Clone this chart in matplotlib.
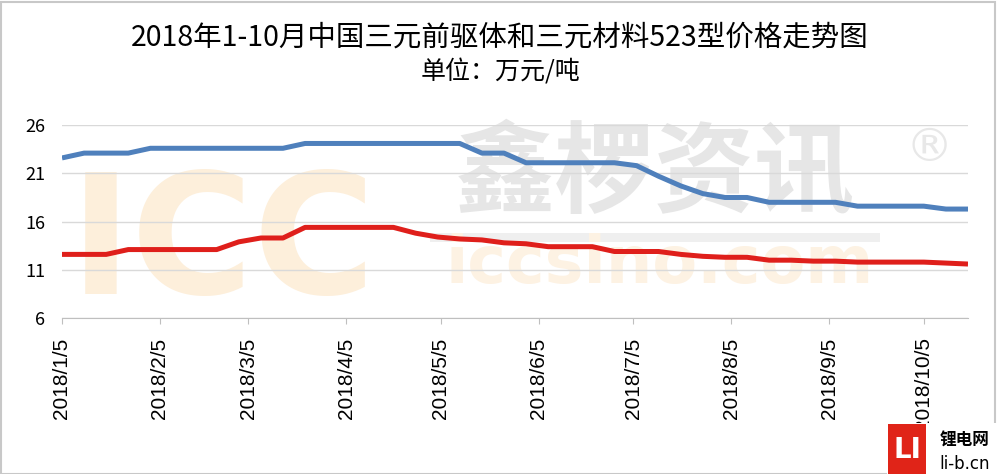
import pandas as pd
import matplotlib.pyplot as plt
from matplotlib.patches import Rectangle

plt.rcParams['font.family'] = ['Noto Sans CJK SC', 'DejaVu Sans']

# weekly price points, 2018/1/5 .. 2018/10/19 (unit: 10k yuan / ton)
dates = pd.date_range("2018-01-05", periods=42, freq="7D")

precursor = [22.6, 23.1, 23.1, 23.1, 23.6, 23.6, 23.6, 23.6, 23.6, 23.6,
             23.6, 24.1, 24.1, 24.1, 24.1, 24.1, 24.1, 24.1, 24.1, 23.1,
             23.1, 22.1, 22.1, 22.1, 22.1, 22.1, 21.8, 20.7, 19.7, 18.9,
             18.5, 18.5, 18.0, 18.0, 18.0, 18.0, 17.6, 17.6, 17.6, 17.6,
             17.3, 17.3]

material_523 = [12.6, 12.6, 12.6, 13.1, 13.1, 13.1, 13.1, 13.1, 13.9, 14.3,
                14.3, 15.4, 15.4, 15.4, 15.4, 15.4, 14.8, 14.4, 14.2, 14.1,
                13.8, 13.7, 13.4, 13.4, 13.4, 12.9, 12.9, 12.9, 12.6, 12.4,
                12.3, 12.3, 12.0, 12.0, 11.9, 11.9, 11.8, 11.8, 11.8, 11.8,
                11.7, 11.6]

tick_dates = pd.to_datetime(["2018-01-05", "2018-02-05", "2018-03-05", "2018-04-05",
                             "2018-05-05", "2018-06-05", "2018-07-05", "2018-08-05",
                             "2018-09-05", "2018-10-05"])
tick_labels = ["2018/%d/5" % m for m in range(1, 11)]

title = "2018年1-10月中国三元前驱体和三元材料523型价格走势图"
subtitle = "单位：万元/吨"

fig = plt.figure(figsize=(10, 4.74), dpi=100)
ax = fig.add_axes([0.062, 0.329, 0.906, 0.407])

# background watermark
fig.text(0.07, 0.306, "ICC", fontsize=120, fontweight="bold", color="#FDEFDB",
         family="DejaVu Sans", va="bottom", zorder=0)
fig.text(0.655, 0.63, "鑫椤资讯", fontsize=72, fontweight="bold", color="#E6E6E6",
         ha="center", va="center", zorder=0)
fig.patches.append(Rectangle((0.43, 0.49), 0.45, 0.018, transform=fig.transFigure,
                             fc="#EFEFEF", ec="none", zorder=0))
fig.text(0.66, 0.44, "iccsino.com", fontsize=47, fontweight="bold", color="#FDF2E3",
         family="DejaVu Sans", ha="center", va="center", zorder=0)
fig.text(0.905, 0.66, "®", fontsize=34, color="#E8E8E8", family="DejaVu Sans", zorder=0)
ax.set_zorder(1)
ax.patch.set_alpha(0)

ax.plot(dates, precursor, color="#4F80BC", lw=3.6, solid_capstyle="butt")
ax.plot(dates, material_523, color="#DF1F1B", lw=3.6, solid_capstyle="butt")

ax.set_ylim(6, 26)
ax.set_yticks([6, 11, 16, 21, 26])
ax.set_xlim(dates[0], dates[-1])
ax.set_xticks(tick_dates)
ax.set_xticklabels(tick_labels, rotation=90, fontsize=15, family="Liberation Sans")
ax.tick_params(axis="y", length=0, labelsize=13, pad=12)
ax.tick_params(axis="x", length=4, color="#BFBFBF", pad=10)
ax.grid(axis="y", color="#D9D9D9", lw=1)
for s in ["top", "right", "left"]:
    ax.spines[s].set_visible(False)
ax.spines["bottom"].set_color("#BFBFBF")

fig.text(0.5, 0.92, title, ha="center", va="center", fontsize=20.5)
fig.text(0.5, 0.848, subtitle, ha="center", va="center", fontsize=18)

# frame around the picture
fig.patches.append(Rectangle((0.001, 0.0), 0.994, 0.995, transform=fig.transFigure,
                             fill=False, ec="#C8C8C8", lw=1.5))

# logo in the corner
fig.patches.append(Rectangle((0.887, 0.0), 0.113, 0.108, transform=fig.transFigure,
                             fc="white", ec="none", zorder=5))
fig.patches.append(Rectangle((0.888, 0.0), 0.038, 0.105, transform=fig.transFigure,
                             fc="#E02418", ec="none", zorder=6))
fig.text(0.907, 0.05, "LI", ha="center", va="center", color="white", fontsize=20,
         fontweight="bold", family="DejaVu Sans", zorder=7)
fig.text(0.965, 0.07, "锂电网", ha="center", va="center", fontsize=12,
         fontweight="bold", zorder=7)
fig.text(0.965, 0.022, "li-b.cn", ha="center", va="center", fontsize=12,
         family="DejaVu Sans", zorder=7)

fig.savefig("out.png", dpi=100)
